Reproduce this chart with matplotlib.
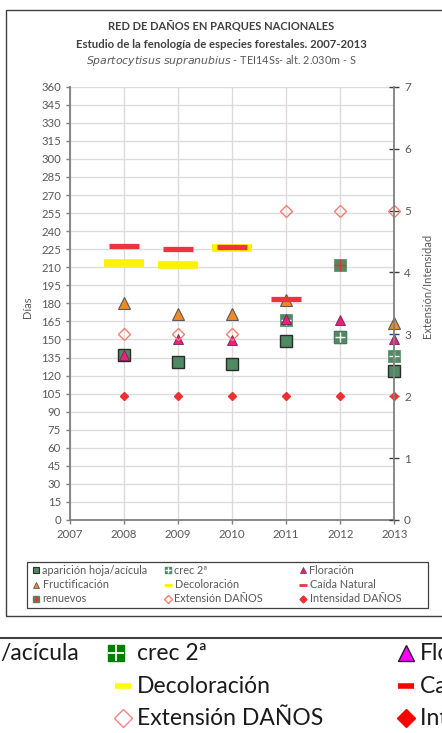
import numpy as np
import matplotlib.pyplot as plt
from matplotlib.patches import Rectangle

plt.rcParams['font.family'] = ['Lato', 'DejaVu Sans']

nan = np.nan
years = [2008, 2009, 2010, 2011, 2012, 2013]
aparicion = [137, 131, 130, 148.5, 152, 123.5]
crec2 = [nan, nan, nan, 166, 152, 136]
floracion = [137, 150, 149.5, 167, 166, 150]
fructificacion = [180.5, 171.5, 171.5, 182.5, nan, 164]
decoloracion = [213.5, 211.5, 226, nan, nan, nan]
caida = [228, 225, 226.5, 183.5, nan, nan]
renuevos = [nan, nan, nan, nan, 211.5, nan]
extension = [3, 3, 3, 5, 5, 5]
intensidad = [2, 2, 2, 2, 2, 2]

W, H = 442, 733
fig = plt.figure(figsize=(W / 100, H / 100), dpi=100)
fig.patch.set_facecolor('white')

# chart frame
fig.add_artist(Rectangle((6 / W, 1 - 616 / H), 1.2, (616 - 10) / H,
                         transform=fig.transFigure, fill=False,
                         edgecolor='#404040', lw=1.0))

ax = fig.add_axes([70 / W, 1 - 520 / H, (394.3 - 70) / W, (520 - 86.7) / H])
ax2 = ax.twinx()

grey = '#595959'
ax.set_xlim(2007, 2013)
ax.set_ylim(0, 360)
ax.set_yticks(np.arange(0, 361, 15))
ax.set_xticks(range(2007, 2014))
ax.grid(axis='y', color='#dcdcdc', lw=1.0)
ax.grid(axis='x', color='#e2d8d8', lw=1.0)
ax.set_axisbelow(True)
for s in ['top', 'right']:
    ax.spines[s].set_visible(False)
for s in ['left', 'bottom']:
    ax.spines[s].set_color('#7f7f7f')
    ax.spines[s].set_linewidth(1.3)
ax.tick_params(axis='both', colors='#7f7f7f', labelcolor=grey, labelsize=8.2,
               direction='out', length=3, width=1)
ax.set_ylabel('Días', color=grey, fontsize=8, labelpad=0)
ax.yaxis.set_label_coords(-0.115, 0.49)

ax2.set_ylim(0, 7)
ax2.set_yticks(range(0, 8))
for s in ['top', 'left', 'bottom']:
    ax2.spines[s].set_visible(False)
ax2.spines['right'].set_color('#7f7f7f')
ax2.spines['right'].set_linewidth(1.3)
ax2.tick_params(axis='y', colors='#404040', labelcolor=grey, labelsize=8.5,
                direction='inout', length=7, width=1)
ax2.set_ylabel('Extensión/Intensidad', color=grey, fontsize=8)
ax2.yaxis.set_label_coords(1.085, 0.54)

green = '#4f8a62'
sq = dict(ls='none', marker='s', clip_on=False)
ax.plot(years, aparicion, ms=9, mfc=green, mec='#2b2b2b', mew=1.0, **sq)
ax.plot(years, crec2, ms=8, mfc=green, mec=green, mew=0.5, **sq)
ax.plot(years, crec2, ls='none', marker='+', ms=7, mec='white', mew=1.0, clip_on=False)
ax.plot(years, floracion, ls='none', marker='^', ms=7.5, mfc='#e8207f',
        mec='#7a2050', mew=0.6, clip_on=False)
ax.plot(years, fructificacion, ls='none', marker='^', ms=8, mfc='#f08a24',
        mec='#5a5a5a', mew=0.8, clip_on=False)
ax.plot(years, decoloracion, ls='none', marker='_', ms=29.5, mec='#fff200',
        mew=5.5, clip_on=False)
ax.plot(years, caida, ls='none', marker='_', ms=21, mec='#ee3340',
        mew=3.8, clip_on=False)
ax.plot(years, renuevos, ms=8, mfc=green, mec=green, mew=0.5, **sq)
ax.plot(years, renuevos, ls='none', marker='+', ms=8, mec='#e83030', mew=1.0, clip_on=False)
ax2.plot(years, extension, ls='none', marker='D', ms=6.3, mfc='none',
         mec='#f08070', mew=1.0, clip_on=False)
ax2.plot(years, intensidad, ls='none', marker='D', ms=4, mfc='#f03030',
         mec='#f03030', clip_on=False)

# titles
fig.text(0.5, 1 - 27 / H, 'RED DE DAÑOS EN PARQUES NACIONALES', ha='center',
         va='center', fontsize=8, fontweight='bold', color='#404040')
fig.text(0.5, 1 - 44 / H, 'Estudio de la fenología de especies forestales. 2007-2013',
         ha='center', va='center', fontsize=8.2, fontweight='bold', color='#404040')
fig.text(0.5, 1 - 60 / H, r'$\mathit{Spartocytisus\ supranubius}$ - TEI14Ss- alt. 2.030m - S',
         ha='center', va='center', fontsize=7.8, color=grey)

# legend box (pixel coordinates)
lg = fig.add_axes([0, 1 - 615 / H, 1, 60 / H])
lg.set_xlim(0, W)
lg.set_ylim(615, 555)
lg.axis('off')
lg.add_patch(Rectangle((27, 562), 401, 46, fill=False, edgecolor='#404040', lw=0.9))
cols = [36, 168, 303]
rws = [570, 584.5, 599]
lfs = 7.8


def lg_item(c, r, label, **mk):
    lg.plot(cols[c], rws[r], ls='none', **mk)
    lg.text(cols[c] + 6.5, rws[r], label, fontsize=lfs, color=grey, va='center')


lg_item(0, 0, 'aparición hoja/acícula', marker='s', ms=5, mfc=green, mec='#2b2b2b', mew=0.8)
lg.plot(cols[1], rws[0], ls='none', marker='s', ms=5, mfc=green, mec=green)
lg_item(1, 0, 'crec 2ª', marker='+', ms=5, mec='white', mew=1)
lg_item(2, 0, 'Floración', marker='^', ms=5, mfc='#e8207f', mec='#7a2050', mew=0.5)
lg_item(0, 1, 'Fructificación', marker='^', ms=5, mfc='#f08a24', mec='#5a5a5a', mew=0.6)
lg_item(1, 1, 'Decoloración', marker='_', ms=6, mec='#fff200', mew=2)
lg_item(2, 1, 'Caída Natural', marker='_', ms=6, mec='#ee3340', mew=2)
lg.plot(cols[0], rws[2], ls='none', marker='s', ms=5, mfc=green, mec=green)
lg_item(0, 2, 'renuevos', marker='+', ms=5, mec='#e83030', mew=1)
lg_item(1, 2, 'Extensión DAÑOS', marker='D', ms=4, mfc='none', mec='#f08070')
lg_item(2, 2, 'Intensidad DAÑOS', marker='D', ms=3.5, mfc='#f03030', mec='#f03030')

# enlarged legend strip below the chart
bx = fig.add_axes([0, 0, 1, (H - 625) / H])
bx.set_xlim(0, W)
bx.set_ylim(H, 625)
bx.axis('off')
bx.plot([0, W], [638, 638], color='#404040', lw=1.5)
rows = [653, 686, 718]
fs = 16.5
tc = '#1a1a1a'
bx.text(0, rows[0], '/acícula', fontsize=fs, color=tc, va='center')
bx.plot(116, rows[0], marker='s', ms=11, mfc='#008000', mec='#008000', ls='none')
bx.plot(116, rows[0], marker='+', ms=11, mec='white', mew=1.3, ls='none')
bx.text(137, rows[0], 'crec 2ª', fontsize=fs, color=tc, va='center')
bx.plot(123, rows[1], marker='_', ms=12, mec='#ffff00', mew=4, ls='none')
bx.text(137, rows[1], 'Decoloración', fontsize=fs, color=tc, va='center')
bx.plot(123, rows[2], marker='D', ms=9, mfc='none', mec='#ff8080', mew=1.0, ls='none')
bx.text(137, rows[2], 'Extensión DAÑOS', fontsize=fs, color=tc, va='center')
bx.plot(406, rows[0], marker='^', ms=12, mfc='#ff00ff', mec='#202020', mew=1.0, ls='none')
bx.text(420, rows[0], 'Floración', fontsize=fs, color=tc, va='center')
bx.plot(406, rows[1], marker='_', ms=12, mec='#ff0000', mew=4, ls='none')
bx.text(420, rows[1], 'Caída Natural', fontsize=fs, color=tc, va='center')
bx.plot(406, rows[2], marker='D', ms=9, mfc='#ff0000', mec='#ff0000', ls='none')
bx.text(420, rows[2], 'Intensidad DAÑOS', fontsize=fs, color=tc, va='center')

fig.savefig('out.png', dpi=100)
